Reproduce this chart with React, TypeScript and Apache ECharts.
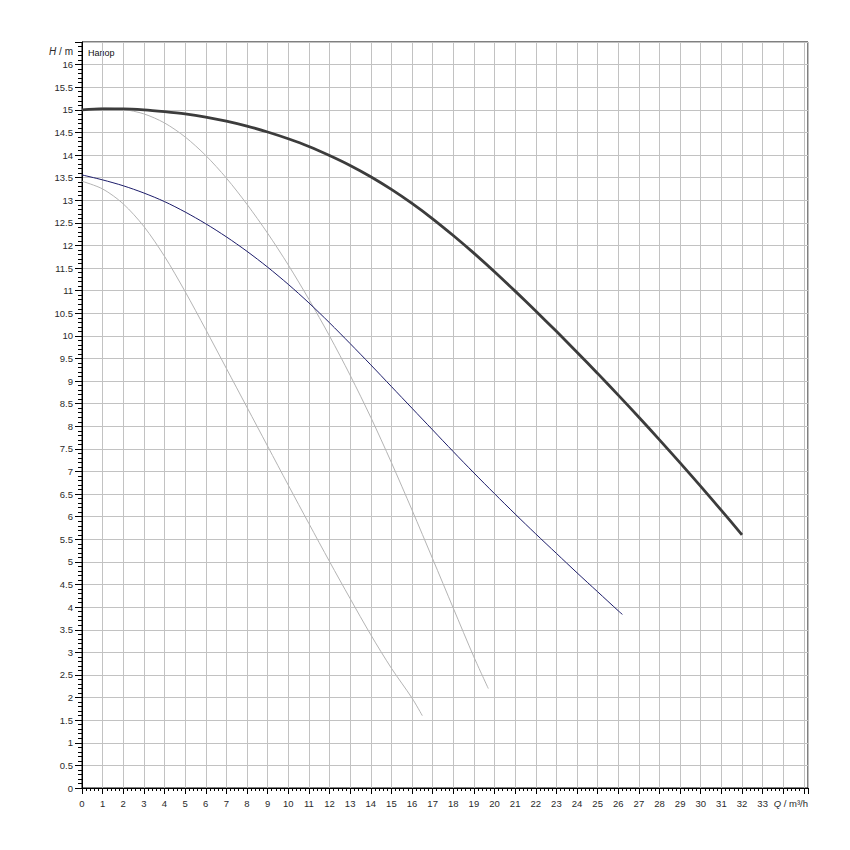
import React, { useEffect, useRef } from "react";
import * as echarts from "echarts";

// Flow Q (m³/h) and head H (m)
const mainQ = [0, 1, 2, 3, 4, 5, 6, 7, 8, 9, 10, 11, 12, 13, 14, 15, 16, 17, 18, 19, 20, 21, 22, 23, 24, 25, 26, 27, 28, 29, 30, 31, 32];
const mainH = [15.0, 15.02, 15.02, 15.0, 14.96, 14.91, 14.84, 14.75, 14.64, 14.51, 14.36, 14.19, 13.99, 13.77, 13.52, 13.24, 12.93, 12.59, 12.22, 11.83, 11.42, 10.99, 10.55, 10.1, 9.64, 9.17, 8.69, 8.2, 7.7, 7.19, 6.67, 6.14, 5.6];

const blueQ = [0, 1, 2, 3, 4, 5, 6, 7, 8, 9, 10, 11, 12, 13, 14, 15, 16, 17, 18, 19, 20, 21, 22, 23, 24, 25, 26, 26.2];
const blueH = [13.56, 13.45, 13.32, 13.16, 12.97, 12.74, 12.48, 12.19, 11.87, 11.52, 11.14, 10.73, 10.29, 9.83, 9.36, 8.88, 8.4, 7.92, 7.44, 6.97, 6.51, 6.06, 5.62, 5.19, 4.76, 4.34, 3.92, 3.84];

const grayAQ = [0, 1, 2, 3, 4, 5, 6, 7, 8, 9, 10, 11, 12, 13, 14, 15, 16, 17, 18, 19, 19.7];
const grayAH = [15.0, 15.04, 15.01, 14.91, 14.71, 14.4, 13.99, 13.49, 12.91, 12.27, 11.57, 10.81, 10.0, 9.13, 8.2, 7.2, 6.15, 5.07, 3.98, 2.9, 2.2];

const grayBQ = [0, 1, 2, 3, 4, 5, 6, 7, 8, 9, 10, 11, 12, 13, 14, 15, 16, 16.5];
const grayBH = [13.42, 13.25, 12.92, 12.42, 11.76, 10.98, 10.14, 9.28, 8.42, 7.56, 6.7, 5.85, 5.01, 4.19, 3.39, 2.65, 1.99, 1.6];

const xMax = 35.2;
const yMax = 16.5;
const lastXLabel = 33;
const lastYLabel = 16;

const curveLabel = "Напор";

const pairs = (q: number[], h: number[]) => q.map((v, i) => [v, h[i]]);

const FONT = "Liberation Sans, Arial, sans-serif";
const TXT = "#2a2a2a";

export default function App() {
  const ref = useRef<HTMLDivElement>(null);
  useEffect(() => {
    if (!ref.current) return;
    const chart = echarts.init(ref.current, undefined, { renderer: "svg" });
    chart.setOption({
      animation: false,
      backgroundColor: "#ffffff",
      grid: {
        left: 82,
        right: 42,
        top: 42,
        bottom: 62,
        show: true,
        borderColor: "#000",
        borderWidth: 1,
        backgroundColor: "transparent",
      },
      xAxis: {
        type: "value",
        min: 0,
        max: xMax,
        interval: 1,
        axisLine: { show: true, onZero: false, lineStyle: { color: "#000", width: 1 } },
        axisTick: { show: true, length: 6, lineStyle: { color: "#000" } },
        minorTick: { show: true, splitNumber: 5, length: 3, lineStyle: { color: "#000" } },
        splitLine: { show: true, lineStyle: { color: "#c2c2c2", width: 1 } },
        axisLabel: {
          margin: 10,
          fontSize: 9.5,
          fontFamily: FONT,
          color: TXT,
          showMaxLabel: false,
          formatter: (v: number) => (v > lastXLabel ? "" : String(v)),
        },
      },
      yAxis: {
        type: "value",
        min: 0,
        max: yMax,
        interval: 0.5,
        axisLine: { show: true, onZero: false, lineStyle: { color: "#000", width: 1 } },
        axisTick: { show: true, length: 7, lineStyle: { color: "#000" } },
        minorTick: { show: true, splitNumber: 5, length: 4, lineStyle: { color: "#000" } },
        splitLine: { show: true, lineStyle: { color: "#c2c2c2", width: 1 } },
        axisLabel: {
          margin: 9,
          fontSize: 9.5,
          fontFamily: FONT,
          color: TXT,
          formatter: (v: number) => (v > lastYLabel ? "" : String(v)),
        },
      },
      graphic: [
        {
          type: "text",
          x: 73,
          y: 51,
          style: {
            text: "{i|H} / m",
            rich: { i: { fontStyle: "italic", fontSize: 10, fontFamily: FONT, fill: TXT } },
            font: `10px ${FONT}`,
            fill: TXT,
            textAlign: "right",
            textVerticalAlign: "middle",
          },
        },
        {
          type: "text",
          x: 808,
          y: 803,
          style: {
            text: "{i|Q} / m³/h",
            rich: { i: { fontStyle: "italic", fontSize: 9.5, fontFamily: FONT, fill: TXT } },
            font: `9.5px ${FONT}`,
            fill: TXT,
            textAlign: "right",
            textVerticalAlign: "middle",
          },
        },
        {
          type: "text",
          x: 88,
          y: 53,
          style: {
            text: curveLabel,
            font: `9px ${FONT}`,
            fill: "#111",
            textAlign: "left",
            textVerticalAlign: "middle",
          },
        },
      ],
      series: [
        {
          type: "line",
          data: pairs(grayBQ, grayBH),
          showSymbol: false,
          smooth: 0.3,
          lineStyle: { color: "#b4b4b4", width: 1 },
          z: 2,
        },
        {
          type: "line",
          data: pairs(grayAQ, grayAH),
          showSymbol: false,
          smooth: 0.3,
          lineStyle: { color: "#b4b4b4", width: 1 },
          z: 2,
        },
        {
          type: "line",
          data: pairs(blueQ, blueH),
          showSymbol: false,
          smooth: 0.3,
          lineStyle: { color: "#1c1c6a", width: 1 },
          z: 3,
        },
        {
          type: "line",
          data: pairs(mainQ, mainH),
          showSymbol: false,
          smooth: 0.3,
          lineStyle: { color: "#3c3c3c", width: 2.8 },
          z: 4,
        },
      ],
    });
    return () => chart.dispose();
  }, []);
  return (
    <div
      ref={ref}
      style={{ position: "absolute", left: 0, top: 0, width: 850, height: 850, background: "#fff" }}
    />
  );
}
